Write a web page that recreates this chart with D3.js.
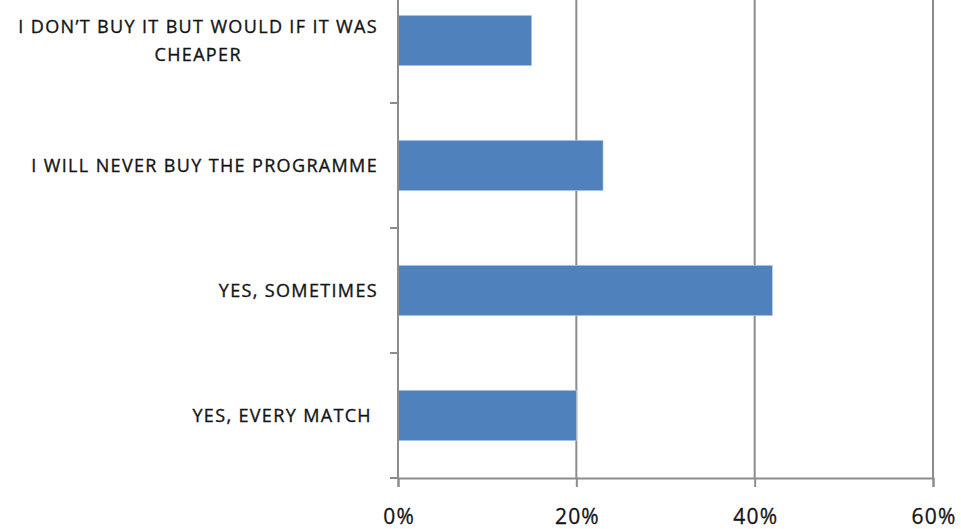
<!DOCTYPE html>
<html>
<head>
<meta charset="utf-8">
<script src="https://cdn.jsdelivr.net/npm/d3@7"></script>
<style>
  html, body { margin: 0; padding: 0; background: #fff; }
  svg { display: block; }
  text { font-family: "Open Sans", Lato, sans-serif; fill: #141414; }
</style>
</head>
<body>
<svg id="chart" width="961" height="529"></svg>
<script>
// Survey answers, top to bottom
const categories = [
  ["I DON\u2019T BUY IT BUT WOULD IF IT WAS", "CHEAPER"],
  ["I WILL NEVER BUY THE PROGRAMME"],
  ["YES, SOMETIMES"],
  ["YES, EVERY MATCH "]
];
const shares = [15, 23, 42, 20];          // percent of respondents
const xTicks = [0, 20, 40, 60];
const xTickLabels = ["0%", "20%", "40%", "60%"];

const svg = d3.select("#chart");
const plotLeft = 398, plotRight = 933, plotTop = -22, plotBottom = 478;

const x = d3.scaleLinear().domain([0, 60]).range([plotLeft, plotRight]);
const keys = categories.map((c, i) => i);
const y = d3.scaleBand().domain(keys).range([plotTop, plotBottom])
  .paddingInner(0.596).paddingOuter(0.298);

const gridColor = "#8c8c8c";

// vertical gridlines
svg.append("g").selectAll("line").data(xTicks.slice(1)).join("line")
  .attr("x1", d => x(d)).attr("x2", d => x(d))
  .attr("y1", plotTop).attr("y2", plotBottom)
  .attr("stroke", gridColor).attr("stroke-width", 2);

// bars
svg.append("g").selectAll("rect").data(keys).join("rect")
  .attr("x", x(0))
  .attr("y", i => y(i))
  .attr("width", i => x(shares[i]) - x(0))
  .attr("height", y.bandwidth())
  .attr("fill", "#4f81bd")
  .attr("stroke", "#c6d9f1").attr("stroke-width", 0.6);

// x axis
const xAxis = d3.axisBottom(x).tickValues(xTicks)
  .tickFormat((d, i) => xTickLabels[i]).tickSize(9).tickPadding(22);
const gx = svg.append("g").attr("transform", `translate(0,${plotBottom})`).call(xAxis);
gx.select(".domain").attr("stroke", gridColor).attr("stroke-width", 2);
gx.selectAll(".tick line").attr("stroke", gridColor).attr("stroke-width", 2);
gx.selectAll(".tick text").attr("font-size", 21).attr("font-family", "'Open Sans', sans-serif")
  .attr("fill", "#141414").attr("stroke", "#141414").attr("stroke-width", 0.3)
  .attr("letter-spacing", 1.2).attr("dx", 0.6);

// y axis: line with ticks at band boundaries
const boundaries = d3.range(0, keys.length + 1).map(i => plotTop + i * y.step());
svg.append("line")
  .attr("x1", plotLeft).attr("x2", plotLeft).attr("y1", plotTop).attr("y2", plotBottom)
  .attr("stroke", gridColor).attr("stroke-width", 2);
svg.append("g").selectAll("line").data(boundaries).join("line")
  .attr("x1", plotLeft - 8).attr("x2", plotLeft)
  .attr("y1", d => d).attr("y2", d => d)
  .attr("stroke", gridColor).attr("stroke-width", 2);

// category labels, multi-line ones centred on each other, block right-aligned
const lineGap = 28.4;
const labelRight = 378;
const labels = svg.append("g");
keys.forEach(i => {
  const lines = categories[i];
  const cy = y(i) + y.bandwidth() / 2;
  const g = labels.append("g");
  const texts = lines.map((t, j) => g.append("text")
    .attr("font-size", 18)
    .attr("letter-spacing", 1.35)
    .attr("stroke", "#141414").attr("stroke-width", 0.35)
    .style("white-space", "pre")
    .attr("text-anchor", "middle")
    .attr("y", cy + (j - (lines.length - 1) / 2) * lineGap + 6.5)
    .text(t));
  const widths = texts.map(t => t.node().getComputedTextLength());
  const w = d3.max(widths);
  texts.forEach(t => t.attr("x", labelRight - w / 2));
});
</script>
</body>
</html>
